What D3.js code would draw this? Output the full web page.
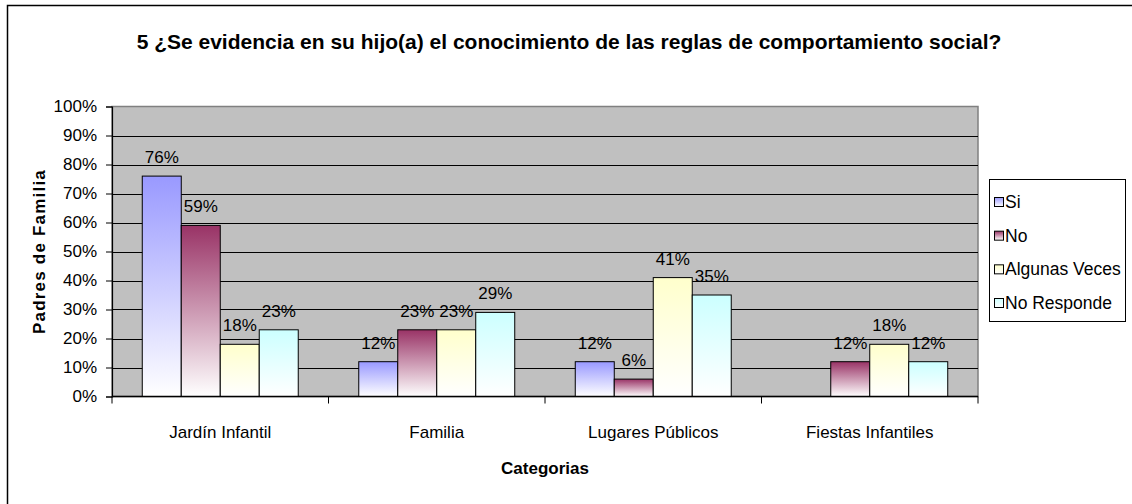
<!DOCTYPE html>
<html lang="es">
<head>
  <meta charset="UTF-8">
  <title>Reglas de comportamiento social</title>
  <script src="https://d3js.org/d3.v7.min.js"></script>
  <style>
    body { margin: 0; background: #fff; font-family: "Liberation Sans", Arial, sans-serif; }
  </style>
</head>
<body>
  <div id="chart"></div>
  <script>
    const categories = ["Jardín Infantil", "Familia", "Lugares Públicos", "Fiestas Infantiles"];
    const seriesNames = ["Si", "No", "Algunas Veces", "No Responde"];
    const siValues = [76, 12, 12, 0];
    const noValues = [59, 23, 6, 12];
    const algunasValues = [18, 23, 41, 18];
    const noRespondeValues = [23, 29, 35, 12];
    const yTicks = [0, 10, 20, 30, 40, 50, 60, 70, 80, 90, 100];

    const seriesValues = [siValues, noValues, algunasValues, noRespondeValues];
    const colors = ["#9999FF", "#993366", "#FFFFCC", "#CCFFFF"];

    const width = 1132, height = 504;
    const plot = { left: 112, right: 978, top: 106.5, bottom: 396.5 };

    const svg = d3.select("#chart").append("svg")
        .attr("width", width)
        .attr("height", height)
        .style("font-family", "'Liberation Sans', Arial, sans-serif");

    // chart border (runs off the right/bottom edge in the original)
    svg.append("rect")
      .attr("x", 7.5).attr("y", 5.5)
      .attr("width", 1140).attr("height", 510)
      .attr("fill", "#fff").attr("stroke", "#000").attr("stroke-width", 1.5);

    // gradients: series colour at top fading to white
    const defs = svg.append("defs");
    colors.forEach((c, i) => {
      const g = defs.append("linearGradient")
        .attr("id", "grad" + i)
        .attr("x1", 0).attr("y1", 0).attr("x2", 0).attr("y2", 1);
      g.append("stop").attr("offset", "0%").attr("stop-color", c);
      g.append("stop").attr("offset", "100%").attr("stop-color", "#fff");
    });

    const x0 = d3.scaleBand().domain(categories).range([plot.left, plot.right]);
    const x1 = d3.scaleBand().domain(d3.range(seriesNames.length))
        .range([0, x0.bandwidth()]).paddingOuter(0.776).paddingInner(0);
    const y = d3.scaleLinear().domain([0, 100]).range([plot.bottom, plot.top]);

    // plot background
    svg.append("rect")
      .attr("x", plot.left).attr("y", plot.top)
      .attr("width", plot.right - plot.left).attr("height", plot.bottom - plot.top)
      .attr("fill", "#C0C0C0").attr("stroke", "#808080").attr("stroke-width", 1.5);

    // gridlines
    svg.append("g")
      .selectAll("line")
      .data(yTicks.filter(d => d > 0 && d < 100))
      .join("line")
      .attr("x1", plot.left).attr("x2", plot.right)
      .attr("y1", d => Math.round(y(d)) + 0.5).attr("y2", d => Math.round(y(d)) + 0.5)
      .attr("stroke", "#000").attr("stroke-width", 1);

    // bars
    const groups = svg.append("g")
      .selectAll("g")
      .data(categories)
      .join("g")
      .attr("transform", d => `translate(${x0(d)},0)`);

    groups.selectAll("rect")
      .data((d, ci) => seriesValues.map((vals, si) => ({ si, v: vals[ci] })).filter(d => d.v > 0))
      .join("rect")
      .attr("x", d => x1(d.si))
      .attr("y", d => y(d.v))
      .attr("width", x1.bandwidth())
      .attr("height", d => y(0) - y(d.v))
      .attr("fill", d => `url(#grad${d.si})`)
      .attr("stroke", "#000").attr("stroke-width", 1);

    groups.selectAll("text")
      .data((d, ci) => seriesValues.map((vals, si) => ({ si, v: vals[ci] })).filter(d => d.v > 0))
      .join("text")
      .attr("x", d => x1(d.si) + x1.bandwidth() / 2)
      .attr("y", d => y(d.v) - 13)
      .attr("text-anchor", "middle")
      .attr("font-size", "17px")
      .attr("fill", "#000")
      .text(d => d.v + "%");

    // y axis
    const yAxis = d3.axisLeft(y).tickValues(yTicks).tickSize(6).tickPadding(9).tickFormat(d => d + "%");
    const yg = svg.append("g").attr("transform", `translate(${plot.left},0)`).call(yAxis);
    yg.select(".domain").attr("stroke", "#000").attr("stroke-width", 1.2);
    yg.selectAll(".tick line").attr("stroke", "#000");
    yg.selectAll(".tick text").attr("font-size", "17px").attr("fill", "#000")
      .attr("font-family", "'Liberation Sans', Arial, sans-serif");

    // x axis
    const xg = svg.append("g").attr("transform", `translate(0,${plot.bottom})`);
    xg.append("line")
      .attr("x1", plot.left).attr("x2", plot.right)
      .attr("stroke", "#000").attr("stroke-width", 1.5);
    xg.selectAll("line.tk")
      .data(categories.concat(["_end"]))
      .join("line")
      .attr("class", "tk")
      .attr("x1", (d, i) => plot.left + i * x0.bandwidth())
      .attr("x2", (d, i) => plot.left + i * x0.bandwidth())
      .attr("y1", 0).attr("y2", 7)
      .attr("stroke", "#000");
    xg.selectAll("text")
      .data(categories)
      .join("text")
      .attr("x", d => x0(d) + x0.bandwidth() / 2)
      .attr("y", 41)
      .attr("text-anchor", "middle")
      .attr("font-size", "17px")
      .text(d => d);

    // title
    svg.append("text")
      .attr("x", 569).attr("y", 49)
      .attr("text-anchor", "middle")
      .attr("font-size", "21px").attr("font-weight", "bold")
      .text("5 ¿Se evidencia en su hijo(a) el conocimiento de las reglas de comportamiento social?");

    // axis titles
    svg.append("text")
      .attr("x", (plot.left + plot.right) / 2).attr("y", 474)
      .attr("text-anchor", "middle")
      .attr("font-size", "17px").attr("font-weight", "bold")
      .text("Categorias");

    svg.append("text")
      .attr("transform", `translate(45,${(plot.top + plot.bottom) / 2}) rotate(-90)`)
      .attr("text-anchor", "middle")
      .attr("font-size", "17px").attr("font-weight", "bold")
      .attr("letter-spacing", "1.2px")
      .text("Padres de Familia");

    // legend
    const legend = svg.append("g");
    legend.append("rect")
      .attr("x", 989.5).attr("y", 179.5).attr("width", 136).attr("height", 142)
      .attr("fill", "#fff").attr("stroke", "#000").attr("stroke-width", 1);
    const legendY = d3.scalePoint().domain(seriesNames).range([202, 303]);
    const items = legend.selectAll("g.item").data(seriesNames).join("g").attr("class", "item")
      .attr("transform", d => `translate(0,${legendY(d)})`);
    items.append("rect")
      .attr("x", 994.5).attr("y", -4.5).attr("width", 9).attr("height", 9)
      .attr("fill", (d, i) => `url(#grad${i})`).attr("stroke", "#000").attr("stroke-width", 1);
    items.append("text")
      .attr("x", 1005).attr("y", 6)
      .attr("font-size", "17.5px")
      .text(d => d);
  </script>
</body>
</html>
